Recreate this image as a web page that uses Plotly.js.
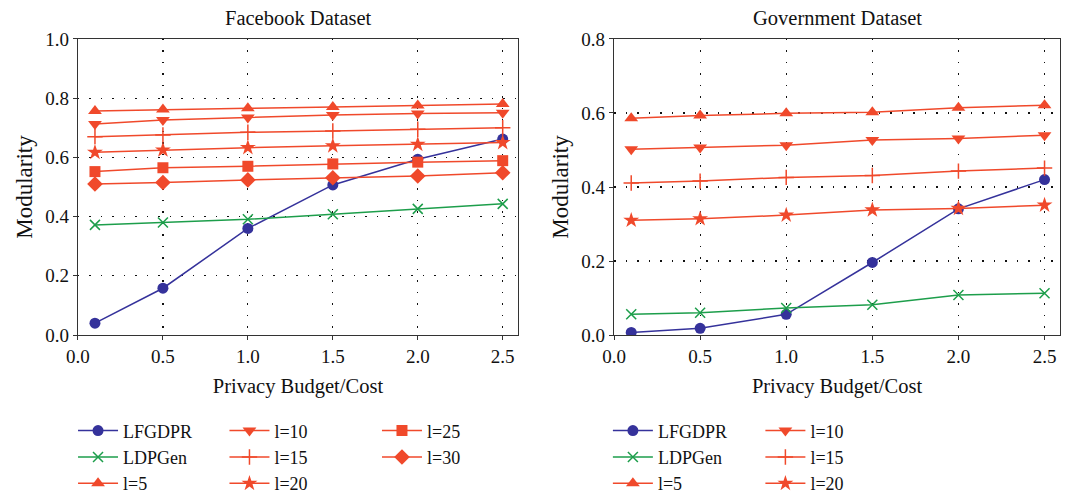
<!DOCTYPE html>
<html>
<head>
<meta charset="utf-8">
<script src="https://cdn.plot.ly/plotly-3.0.1.min.js"></script>
<style>html,body{margin:0;padding:0;background:#fff;}#chart{width:1074px;height:498px;}</style>
</head>
<body>
<div id="chart"></div>
<script>
const budget = [0.1, 0.5, 1.0, 1.5, 2.0, 2.5];
const xTicks = [0.0, 0.5, 1.0, 1.5, 2.0, 2.5];
const xTickLabels = ["0.0", "0.5", "1.0", "1.5", "2.0", "2.5"];
const fbTicks = [0.0, 0.2, 0.4, 0.6, 0.8, 1.0];
const fbTickLabels = ["0.0", "0.2", "0.4", "0.6", "0.8", "1.0"];
const govTicks = [0.0, 0.2, 0.4, 0.6, 0.8];
const govTickLabels = ["0.0", "0.2", "0.4", "0.6", "0.8"];

// Facebook dataset
const fbLFGDPR = [0.040, 0.158, 0.360, 0.507, 0.594, 0.662];
const fbLDPGen = [0.372, 0.380, 0.391, 0.408, 0.426, 0.443];
const fbL5  = [0.757, 0.762, 0.766, 0.770, 0.775, 0.780];
const fbL10 = [0.713, 0.726, 0.735, 0.743, 0.748, 0.751];
const fbL15 = [0.670, 0.676, 0.685, 0.689, 0.695, 0.700];
const fbL20 = [0.617, 0.625, 0.633, 0.639, 0.644, 0.650];
const fbL25 = [0.552, 0.565, 0.570, 0.578, 0.584, 0.589];
const fbL30 = [0.510, 0.515, 0.524, 0.531, 0.537, 0.548];

// Government dataset
const govLFGDPR = [0.007, 0.018, 0.056, 0.196, 0.341, 0.420];
const govLDPGen = [0.056, 0.060, 0.073, 0.082, 0.108, 0.113];
const govL5  = [0.586, 0.593, 0.599, 0.602, 0.614, 0.621];
const govL10 = [0.502, 0.507, 0.513, 0.527, 0.531, 0.540];
const govL15 = [0.411, 0.416, 0.426, 0.431, 0.443, 0.451];
const govL20 = [0.310, 0.314, 0.324, 0.338, 0.342, 0.351];

const BLUE = '#35329b', GREEN = '#1d9e4b', RED = '#f0492b';

function tr(name, y, color, symbol, size, xa, ya, legend, lw) {
  return {
    x: budget, y: y, name: name, type: 'scatter', mode: 'lines+markers',
    xaxis: xa, yaxis: ya, legend: legend,
    line: {color: color, width: 1.5},
    marker: {color: color, symbol: symbol, size: size, line: {color: color, width: lw || 0}}
  };
}

const data = [
  tr('LFGDPR', fbLFGDPR, BLUE, 'circle', 11, 'x', 'y', 'legend'),
  tr('LDPGen', fbLDPGen, GREEN, 'x-thin', 10, 'x', 'y', 'legend', 1.5),
  tr('l=5', fbL5, RED, 'triangle-up', 12, 'x', 'y', 'legend'),
  tr('l=10', fbL10, RED, 'triangle-down', 12, 'x', 'y', 'legend2'),
  tr('l=15', fbL15, RED, 'cross-thin', 11, 'x', 'y', 'legend2', 1.5),
  tr('l=20', fbL20, RED, 'star', 12, 'x', 'y', 'legend2'),
  tr('l=25', fbL25, RED, 'square', 11, 'x', 'y', 'legend3'),
  tr('l=30', fbL30, RED, 'diamond', 12, 'x', 'y', 'legend3'),
  tr('LFGDPR', govLFGDPR, BLUE, 'circle', 11, 'x2', 'y2', 'legend4'),
  tr('LDPGen', govLDPGen, GREEN, 'x-thin', 10, 'x2', 'y2', 'legend4', 1.5),
  tr('l=5', govL5, RED, 'triangle-up', 12, 'x2', 'y2', 'legend4'),
  tr('l=10', govL10, RED, 'triangle-down', 12, 'x2', 'y2', 'legend5'),
  tr('l=15', govL15, RED, 'cross-thin', 11, 'x2', 'y2', 'legend5', 1.5),
  tr('l=20', govL20, RED, 'star', 12, 'x2', 'y2', 'legend5')
];

const FONT = 'Liberation Serif, Times New Roman, serif';
const tickFont = {family: FONT, size: 19, color: '#111'};
const GRID_DASH = '1.5px,10px';

function xaxis(domain, anchor) {
  return {
    domain: domain, anchor: anchor, range: [0, 2.59],
    tickvals: xTicks, ticktext: xTickLabels, tickfont: tickFont,
    ticks: 'outside', ticklen: 4, tickcolor: '#333',
    showline: true, linecolor: '#333', linewidth: 1.2, mirror: true,
    showgrid: true, gridcolor: '#111', griddash: GRID_DASH, gridwidth: 1.2,
    zeroline: false, automargin: false,
    title: {text: 'Privacy Budget/Cost', font: {family: FONT, size: 20.5, color: '#111'}, standoff: 12}
  };
}
function yaxis(range, tv, tt, anchor) {
  return {
    domain: [0.3273, 0.9217], anchor: anchor, range: range,
    tickvals: tv, ticktext: tt, tickfont: tickFont,
    ticks: 'outside', ticklen: 4, tickcolor: '#333',
    showline: true, linecolor: '#333', linewidth: 1.2, mirror: true,
    showgrid: true, gridcolor: '#111', griddash: GRID_DASH, gridwidth: 1.2,
    zeroline: false, automargin: false,
    title: {text: 'Modularity', font: {family: FONT, size: 23, color: '#111'}, standoff: 6}
  };
}

const legFont = {family: FONT, size: 18, color: '#111'};
function leg(x) {
  return {x: x, y: 0.172, xanchor: 'left', yanchor: 'top', orientation: 'v',
          font: legFont, bgcolor: 'rgba(0,0,0,0)', itemwidth: 40, tracegroupgap: 0};
}

const layout = {
  width: 1074, height: 498,
  margin: {l: 0, r: 0, t: 0, b: 0, autoexpand: false},
  paper_bgcolor: '#fff', plot_bgcolor: '#fff',
  font: {family: FONT},
  showlegend: true,
  xaxis: xaxis([0.0726, 0.4823], 'y'),
  yaxis: yaxis([0, 1.0], fbTicks, fbTickLabels, 'x'),
  xaxis2: xaxis([0.5717, 0.987], 'y2'),
  yaxis2: yaxis([0, 0.8], govTicks, govTickLabels, 'x2'),
  legend: leg(0.068),
  legend2: leg(0.209),
  legend3: leg(0.351),
  legend4: leg(0.566),
  legend5: leg(0.708),
  annotations: [
    {text: 'Facebook Dataset', xref: 'paper', yref: 'paper', x: 0.2775, y: 0.963, xanchor: 'center', yanchor: 'middle', showarrow: false, font: {family: FONT, size: 20.5, color: '#111'}},
    {text: 'Government Dataset', xref: 'paper', yref: 'paper', x: 0.7795, y: 0.963, xanchor: 'center', yanchor: 'middle', showarrow: false, font: {family: FONT, size: 20.5, color: '#111'}}
  ]
};

Plotly.newPlot('chart', data, layout, {displayModeBar: false, staticPlot: true});
</script>
</body>
</html>
